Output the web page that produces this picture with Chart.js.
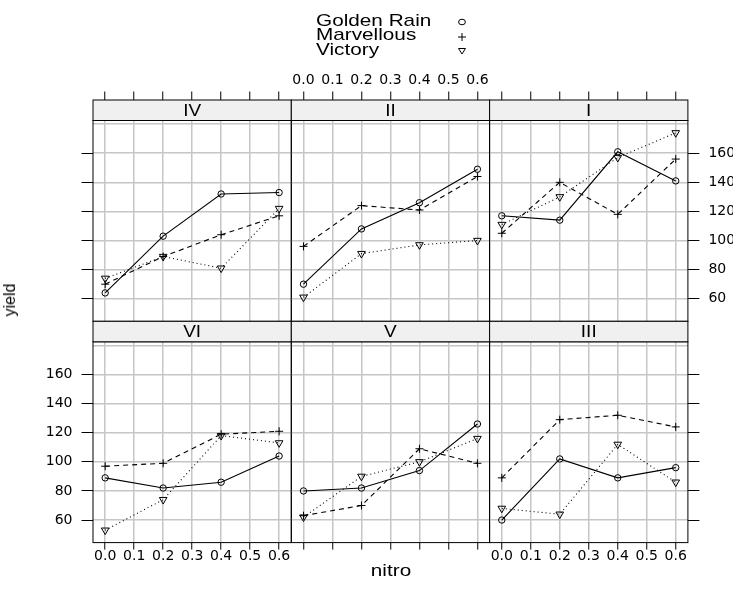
<!DOCTYPE html>
<html>
<head>
<meta charset="utf-8">
<script src="https://cdn.jsdelivr.net/npm/chart.js@4.4.1/dist/chart.umd.min.js"></script>
<style>
  html, body { margin: 0; padding: 0; background: #fff; }
  #wrap { position: relative; width: 738px; height: 595px; overflow: hidden; }
  #wrap canvas { position: absolute; left: 0; top: 0; }
  .txt { position: absolute; font-family: "Liberation Sans", Arial, sans-serif; color: #000; white-space: nowrap; }
  .key { font-size: 17px; line-height: 17px; transform: scaleX(1.22); transform-origin: left center; }
  .sym { position: absolute; }
</style>
</head>
<body>
<div id="wrap"></div>
<script>
// ── DATA ──────────────────────────────────────────────────────────────────────
const nitro = [0.0, 0.2, 0.4, 0.6];
const varieties = ['Golden Rain', 'Marvellous', 'Victory'];
// panel order: top row left→right, then bottom row left→right
const blocks = ['IV', 'II', 'I', 'VI', 'V', 'III'];
const goldenRain = [[64, 103, 132, 133], [70, 108, 126, 149], [117, 114, 161, 141],
                    [89, 82, 86, 104], [80, 82, 94, 126], [60, 102, 89, 96]];
const marvellous = [[70, 89, 104, 117], [96, 124, 121, 144], [105, 140, 118, 156],
                    [97, 99, 119, 121], [63, 70, 109, 99], [89, 129, 132, 124]];
const victory    = [[74, 89, 81, 122], [61, 91, 97, 100], [111, 130, 157, 174],
                    [53, 74, 118, 113], [62, 90, 100, 116], [68, 64, 112, 86]];
const xTicks = [0.0, 0.1, 0.2, 0.3, 0.4, 0.5, 0.6];
const yTicks = [60, 80, 100, 120, 140, 160];
const yGrid  = [60, 80, 100, 120, 140, 160, 180];

// ── LAYOUT ────────────────────────────────────────────────────────────────────
const W = 738, H = 595;
const X_MIN = -0.042, X_MAX = 0.642;
const Y_MIN = 44.5, Y_MAX = 182.5;
const AREA_LEFT = 93, PANEL_W = 198.3;
const ROW_TOP = [120.5, 341.8], PANEL_H = 200.8, STRIP_H = 20.5;

const series = [goldenRain, marvellous, victory];
const dashes = [[], [5, 4], [1, 3]];
const pointStyles = ['circle', 'cross', 'triangle'];
const pointRadii = [3.2, 4, 4.4];
const pointRot = [0, 0, 180];

const tickFont = { family: '"DejaVu Sans", sans-serif', size: 14, lineHeight: 1 };
const wrap = document.getElementById('wrap');

// strip + panel box
const panelDeco = {
  id: 'panelDeco',
  afterDraw(chart, args, opts) {
    const { ctx, chartArea: a } = chart;
    ctx.save();
    ctx.lineWidth = 1;
    ctx.strokeStyle = '#000';
    ctx.strokeRect(a.left, a.top, a.right - a.left, a.bottom - a.top);
    const st = a.top - STRIP_H;
    ctx.fillStyle = '#f0f0f0';
    ctx.fillRect(a.left, st, a.right - a.left, STRIP_H);
    ctx.strokeRect(a.left, st, a.right - a.left, STRIP_H);
    ctx.fillStyle = '#000';
    ctx.font = '16.5px "Liberation Sans", Arial, sans-serif';
    ctx.textAlign = 'center';
    ctx.textBaseline = 'alphabetic';
    ctx.translate((a.left + a.right) / 2, st + STRIP_H / 2 + 0.36 * 16.5);
    ctx.scale(1.15, 1);
    ctx.fillText(opts.label, 0, 0);
    ctx.restore();
  }
};

function fixTicks(vals) {
  return s => { s.ticks = vals.map(v => ({ value: v })); };
}

blocks.forEach((block, i) => {
  const col = i % 3, row = Math.floor(i / 3);
  const left = AREA_LEFT + col * PANEL_W, right = left + PANEL_W;
  const top = ROW_TOP[row], bottom = top + PANEL_H;

  const canvas = document.createElement('canvas');
  canvas.width = W; canvas.height = H;
  wrap.appendChild(canvas);

  const xTop = row === 0;
  const xH = xTop ? 60 : 40;
  const xLabels = xTop ? col === 1 : col !== 1;
  const ySide = col === 0 ? 'left' : (col === 2 ? 'right' : null);
  const yLabels = (col === 0 && row === 1) || (col === 2 && row === 0);
  const yW = ySide ? (ySide === 'left' ? 60 : 45) : 0;

  const scales = {
    x: {
      type: 'linear', position: xTop ? 'top' : 'bottom', min: X_MIN, max: X_MAX,
      afterBuildTicks: fixTicks(xTicks),
      afterFit: s => { s.height = xH; s.paddingLeft = s.paddingRight = 0; },
      grid: { color: '#c6c6c6', lineWidth: 1.5, tickColor: '#000', tickWidth: 1,
              tickLength: xTop ? 29 : 7 },
      border: { display: false },
      ticks: { display: xLabels, autoSkip: false, maxRotation: 0, minRotation: 0,
               padding: xTop ? 4 : 0, color: '#000', font: tickFont,
               callback: v => v.toFixed(1) }
    },
    yg: {
      type: 'linear', position: 'left', min: Y_MIN, max: Y_MAX,
      afterBuildTicks: fixTicks(yGrid),
      afterFit: s => { s.width = 0; s.paddingTop = s.paddingBottom = 0; },
      grid: { color: '#c6c6c6', lineWidth: 1.5, drawTicks: false },
      border: { display: false },
      ticks: { display: false }
    }
  };
  if (ySide) {
    scales.yt = {
      type: 'linear', position: ySide, min: Y_MIN, max: Y_MAX,
      afterBuildTicks: fixTicks(yTicks),
      afterFit: s => { s.width = yW; s.paddingTop = s.paddingBottom = 0; },
      grid: { drawOnChartArea: false, tickColor: '#000', tickWidth: 1, tickLength: 11.5 },
      border: { display: false },
      ticks: { display: yLabels, padding: 9, color: '#000', font: tickFont }
    };
  }

  const datasets = varieties.map((name, k) => ({
    label: name,
    data: nitro.map((x, j) => ({ x, y: series[k][i][j] })),
    xAxisID: 'x', yAxisID: 'yg',
    borderColor: '#000', borderWidth: 1.1, borderDash: dashes[k],
    pointStyle: pointStyles[k], pointRadius: pointRadii[k], pointRotation: pointRot[k],
    pointBorderColor: '#000', pointBackgroundColor: 'rgba(0,0,0,0)', pointBorderWidth: 1,
    tension: 0, fill: false
  }));

  new Chart(canvas, {
    type: 'line',
    data: { datasets },
    options: {
      responsive: false, animation: false, devicePixelRatio: 1,
      layout: {
        autoPadding: false,
        padding: {
          left: left - (ySide === 'left' ? yW : 0),
          right: W - right - (ySide === 'right' ? yW : 0),
          top: top - (xTop ? xH : 0),
          bottom: H - bottom - (xTop ? 0 : xH)
        }
      },
      scales,
      plugins: { legend: { display: false }, tooltip: { enabled: false },
                 panelDeco: { label: block } }
    },
    plugins: [panelDeco]
  });
});

// ── KEY + AXIS TITLES ─────────────────────────────────────────────────────────
const keyY = [20, 34.5, 49];
const symSvg = [
  '<ellipse cx="6" cy="6" rx="3.4" ry="2.8" fill="none" stroke="#000" stroke-width="1"/>',
  '<path d="M2 6H10M6 2V10" stroke="#000" stroke-width="1"/>',
  '<path d="M2.5 3.5H9.5L6 9Z" fill="none" stroke="#000" stroke-width="1"/>'
];
varieties.forEach((name, k) => {
  const t = document.createElement('div');
  t.className = 'txt key';
  t.style.left = '316px';
  t.style.top = (keyY[k] - 8.5) + 'px';
  t.textContent = name;
  wrap.appendChild(t);
  const s = document.createElement('div');
  s.className = 'sym';
  s.style.left = '456px';
  s.style.top = (keyY[k] - 6) + 'px';
  s.innerHTML = `<svg width="12" height="12" viewBox="0 0 12 12">${symSvg[k]}</svg>`;
  wrap.appendChild(s);
});

const xt = document.createElement('div');
xt.className = 'txt';
xt.style.cssText = 'left:390.5px;top:570px;font-size:17px;line-height:17px;transform:translate(-50%,-50%) scaleX(1.22);';
xt.textContent = 'nitro';
wrap.appendChild(xt);

const yt = document.createElement('div');
yt.className = 'txt';
yt.style.cssText = 'left:10px;top:300px;font-size:16px;line-height:16px;transform:translate(-50%,-50%) rotate(-90deg);';
yt.textContent = 'yield';
wrap.appendChild(yt);
</script>
</body>
</html>
